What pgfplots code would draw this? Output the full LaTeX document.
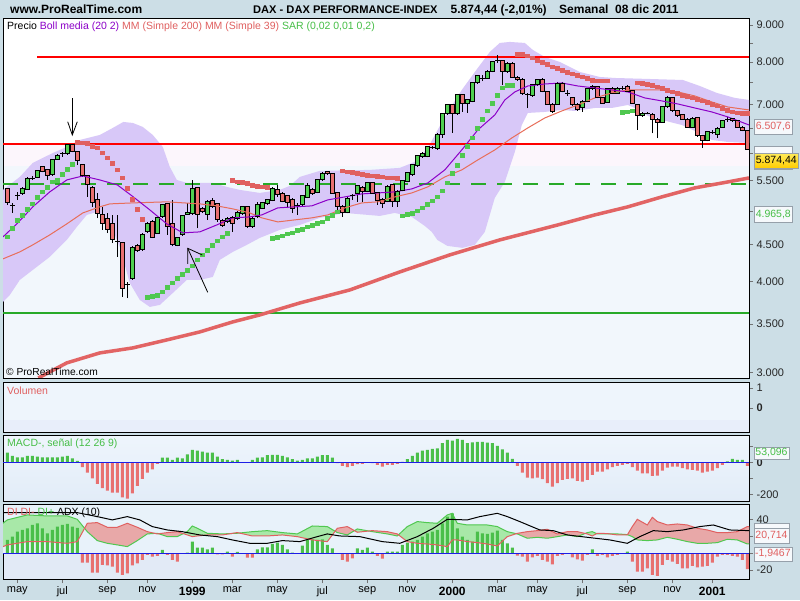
\documentclass[border=0pt]{standalone}
\usepackage{fontspec}
\setmainfont{Liberation Sans}
\usepackage{pgfplots}
\usepackage{pgfplotstable}
\pgfplotsset{compat=1.18}

\definecolor{framebg}{RGB}{204,222,230}
\definecolor{panelblue}{RGB}{242,247,252}
\definecolor{panelpink}{RGB}{252,246,252}
\definecolor{bollfill}{RGB}{216,200,248}
\definecolor{bollmid}{RGB}{140,0,200}
\definecolor{mmred}{RGB}{226,100,100}
\definecolor{mmthin}{RGB}{232,110,90}
\definecolor{upgreen}{RGB}{80,208,80}
\definecolor{dnred}{RGB}{232,112,112}
\definecolor{sargreen}{RGB}{80,200,80}
\definecolor{sarred}{RGB}{224,96,96}
\definecolor{hlred}{RGB}{255,0,0}
\definecolor{hlgreen}{RGB}{40,170,40}
\definecolor{barblue}{RGB}{30,30,230}
\definecolor{difillg}{RGB}{168,232,168}
\definecolor{difillr}{RGB}{232,168,168}
\definecolor{boxedge}{RGB}{150,160,170}
\definecolor{boxfill}{RGB}{246,249,252}
\definecolor{txtgreen}{RGB}{70,190,70}
\definecolor{txtred}{RGB}{224,96,96}
\definecolor{vol1}{RGB}{238,245,252}
\definecolor{vol2}{RGB}{232,238,250}
\definecolor{pan1}{RGB}{238,245,252}
\definecolor{pan2}{RGB}{226,236,248}
\definecolor{pan3}{RGB}{232,242,250}
\definecolor{pan4}{RGB}{226,234,246}
\newcommand\fs[1]{\fontsize{#1}{#1}\selectfont}

% weekly wicks: week, low / week, high / gap
\pgfplotstableread[row sep=\\]{i v\\
0 5096\\ 0 5378\\ 0 nan\\ 1 4969\\ 1 5129\\ 1 nan\\ 2 5178\\ 2 5311\\ 2 nan\\ 3 5260\\ 3 5395\\ 3 nan\\
4 5344\\ 4 5563\\ 4 nan\\ 5 5515\\ 5 5585\\ 5 nan\\ 6 5545\\ 6 5693\\ 6 nan\\ 7 5648\\ 7 5764\\ 7 nan\\
8 5515\\ 8 5711\\ 8 nan\\ 9 5585\\ 9 5893\\ 9 nan\\ 10 5875\\ 10 5987\\ 10 nan\\ 11 5936\\ 11 6032\\ 11 nan\\
12 5968\\ 12 6169\\ 12 nan\\ 13 6016\\ 13 6169\\ 13 nan\\ 14 5782\\ 14 6045\\ 14 nan\\ 15 5568\\ 15 5801\\ 15 nan\\
16 5232\\ 16 5603\\ 16 nan\\ 17 5069\\ 17 5412\\ 17 nan\\ 18 4887\\ 18 5288\\ 18 nan\\ 19 4710\\ 19 5069\\ 19 nan\\
20 4661\\ 20 4965\\ 20 nan\\ 21 4516\\ 21 4938\\ 21 nan\\ 22 4329\\ 22 4938\\ 22 nan\\ 23 3815\\ 23 4539\\ 23 nan\\
24 3796\\ 24 4000\\ 24 nan\\ 25 4021\\ 25 4469\\ 25 nan\\ 26 4393\\ 26 4506\\ 26 nan\\ 27 4407\\ 27 4666\\ 27 nan\\
28 4661\\ 28 4835\\ 28 nan\\ 29 4588\\ 29 4861\\ 29 nan\\ 30 4651\\ 30 4912\\ 30 nan\\ 31 4892\\ 31 5113\\ 31 nan\\
32 4636\\ 32 5129\\ 32 nan\\ 33 4469\\ 33 5178\\ 33 nan\\ 34 4469\\ 34 4612\\ 34 nan\\ 35 4622\\ 35 4938\\ 35 nan\\
36 4938\\ 36 5124\\ 36 nan\\ 37 4938\\ 37 5515\\ 37 nan\\ 38 4735\\ 38 5401\\ 38 nan\\ 39 4969\\ 39 5064\\ 39 nan\\
40 4861\\ 40 5178\\ 40 nan\\ 41 5049\\ 41 5211\\ 41 nan\\ 42 4835\\ 42 5129\\ 42 nan\\ 43 4754\\ 43 4876\\ 43 nan\\
44 4815\\ 44 4912\\ 44 nan\\ 45 4685\\ 45 4922\\ 45 nan\\ 46 4861\\ 46 5001\\ 46 nan\\ 47 4938\\ 47 5085\\ 47 nan\\
48 4743\\ 48 5085\\ 48 nan\\ 49 4739\\ 49 4899\\ 49 nan\\ 50 4887\\ 50 5150\\ 50 nan\\ 51 5033\\ 51 5145\\ 51 nan\\
52 5096\\ 52 5195\\ 52 nan\\ 53 5153\\ 53 5386\\ 53 nan\\ 54 5232\\ 54 5429\\ 54 nan\\ 55 5137\\ 55 5302\\ 55 nan\\
56 5044\\ 56 5260\\ 56 nan\\ 57 4965\\ 57 5203\\ 57 nan\\ 58 4938\\ 58 5124\\ 58 nan\\ 59 5080\\ 59 5260\\ 59 nan\\
60 5206\\ 60 5458\\ 60 nan\\ 61 5260\\ 61 5369\\ 61 nan\\ 62 5285\\ 62 5532\\ 62 nan\\ 63 5498\\ 63 5648\\ 63 nan\\
64 5603\\ 64 5675\\ 64 nan\\ 65 5277\\ 65 5630\\ 65 nan\\ 66 4990\\ 66 5311\\ 66 nan\\ 67 4912\\ 67 5088\\ 67 nan\\
68 4962\\ 68 5219\\ 68 nan\\ 69 5178\\ 69 5277\\ 69 nan\\ 70 5150\\ 70 5424\\ 70 nan\\ 71 5150\\ 71 5403\\ 71 nan\\
72 5302\\ 72 5480\\ 72 nan\\ 73 5277\\ 73 5480\\ 73 nan\\ 74 5096\\ 74 5311\\ 74 nan\\ 75 5044\\ 75 5203\\ 75 nan\\
76 5137\\ 76 5420\\ 76 nan\\ 77 5069\\ 77 5446\\ 77 nan\\ 78 5069\\ 78 5336\\ 78 nan\\ 79 5319\\ 79 5515\\ 79 nan\\
80 5472\\ 80 5657\\ 80 nan\\ 81 5585\\ 81 5801\\ 81 nan\\ 82 5746\\ 82 5968\\ 82 nan\\ 83 5912\\ 83 6016\\ 83 nan\\
84 5921\\ 84 6140\\ 84 nan\\ 85 6083\\ 85 6140\\ 85 nan\\ 86 6064\\ 86 6397\\ 86 nan\\ 87 6297\\ 87 6816\\ 87 nan\\
88 6772\\ 88 7011\\ 88 nan\\ 89 6397\\ 89 7011\\ 89 nan\\ 90 6772\\ 90 7237\\ 90 nan\\ 91 6837\\ 91 7237\\ 91 nan\\
92 6816\\ 92 7124\\ 92 nan\\ 93 7045\\ 93 7516\\ 93 nan\\ 94 7480\\ 94 7684\\ 94 nan\\ 95 7540\\ 95 7684\\ 95 nan\\
96 7588\\ 96 7795\\ 96 nan\\ 97 7745\\ 97 8033\\ 97 nan\\ 98 7982\\ 98 8185\\ 98 nan\\ 99 7445\\ 99 8058\\ 99 nan\\
100 7733\\ 100 8007\\ 100 nan\\ 101 7612\\ 101 7994\\ 101 nan\\ 102 7547\\ 102 7648\\ 102 nan\\ 103 7214\\ 103 7600\\ 103 nan\\
104 6917\\ 104 7253\\ 104 nan\\ 105 7168\\ 105 7469\\ 105 nan\\ 106 7421\\ 106 7588\\ 106 nan\\ 107 7272\\ 107 7600\\ 107 nan\\
108 6989\\ 108 7306\\ 108 nan\\ 109 6809\\ 109 7023\\ 109 nan\\ 110 6989\\ 110 7504\\ 110 nan\\ 111 7272\\ 111 7504\\ 111 nan\\
112 7191\\ 112 7329\\ 112 nan\\ 113 6967\\ 113 7168\\ 113 nan\\ 114 6858\\ 114 7023\\ 114 nan\\ 115 6843\\ 115 7101\\ 115 nan\\
116 7045\\ 116 7375\\ 116 nan\\ 117 7329\\ 117 7445\\ 117 nan\\ 118 7134\\ 118 7421\\ 118 nan\\ 119 7011\\ 119 7168\\ 119 nan\\
120 7034\\ 120 7375\\ 120 nan\\ 121 7237\\ 121 7398\\ 121 nan\\ 122 7237\\ 122 7387\\ 122 nan\\ 123 7329\\ 123 7410\\ 123 nan\\
124 7272\\ 124 7445\\ 124 nan\\ 125 7011\\ 125 7329\\ 125 nan\\ 126 6459\\ 126 7011\\ 126 nan\\ 127 6729\\ 127 6826\\ 127 nan\\
128 6783\\ 128 6826\\ 128 nan\\ 129 6391\\ 129 6805\\ 129 nan\\ 130 6292\\ 130 6698\\ 130 nan\\ 131 6603\\ 131 6967\\ 131 nan\\
132 6934\\ 132 7180\\ 132 nan\\ 133 6837\\ 133 7168\\ 133 nan\\ 134 6729\\ 134 6880\\ 134 nan\\ 135 6666\\ 135 6794\\ 135 nan\\
136 6500\\ 136 6698\\ 136 nan\\ 137 6500\\ 137 6719\\ 137 nan\\ 138 6317\\ 138 6729\\ 138 nan\\ 139 6107\\ 139 6357\\ 139 nan\\
140 6228\\ 140 6439\\ 140 nan\\ 141 6377\\ 141 6449\\ 141 nan\\ 142 6297\\ 142 6510\\ 142 nan\\ 143 6500\\ 143 6666\\ 143 nan\\
144 6624\\ 144 6719\\ 144 nan\\ 145 6624\\ 145 6708\\ 145 nan\\ 146 6500\\ 146 6666\\ 146 nan\\ 147 6429\\ 147 6530\\ 147 nan\\
148 6064\\ 148 6459\\ 148 nan\\
}\wicksT

% rising weeks (and unchanged weeks): week, open / week, close / gap
\pgfplotstableread[row sep=\\]{i v\\
1 5080\\ 1 5080\\ 1 nan\\ 2 5244\\ 2 5244\\ 2 nan\\ 3 5288\\ 3 5373\\ 3 nan\\ 4 5356\\ 4 5545\\ 4 nan\\
5 5541\\ 5 5541\\ 5 nan\\ 6 5563\\ 6 5675\\ 6 nan\\ 9 5603\\ 9 5875\\ 9 nan\\ 10 5888\\ 10 5949\\ 10 nan\\
11 5987\\ 11 5987\\ 11 nan\\ 12 5987\\ 12 6159\\ 12 nan\\ 22 4539\\ 22 4539\\ 22 nan\\ 24 3958\\ 24 3958\\ 24 nan\\
25 4043\\ 25 4460\\ 25 nan\\ 27 4421\\ 27 4646\\ 27 nan\\ 28 4685\\ 28 4810\\ 28 nan\\ 30 4661\\ 30 4896\\ 30 nan\\
31 4912\\ 31 5096\\ 31 nan\\ 34 4482\\ 34 4602\\ 34 nan\\ 35 4636\\ 35 4922\\ 35 nan\\ 36 4949\\ 36 4982\\ 36 nan\\
37 4965\\ 37 5373\\ 37 nan\\ 40 4949\\ 40 5150\\ 40 nan\\ 44 4835\\ 44 4887\\ 44 nan\\ 46 4887\\ 46 4982\\ 46 nan\\
47 4965\\ 47 5069\\ 47 nan\\ 49 4758\\ 49 4887\\ 49 nan\\ 50 4912\\ 50 5107\\ 50 nan\\ 51 5044\\ 51 5134\\ 51 nan\\
52 5113\\ 52 5178\\ 52 nan\\ 53 5167\\ 53 5373\\ 53 nan\\ 58 5085\\ 58 5085\\ 58 nan\\ 59 5096\\ 59 5244\\ 59 nan\\
60 5222\\ 60 5412\\ 60 nan\\ 62 5299\\ 62 5515\\ 62 nan\\ 63 5515\\ 63 5633\\ 63 nan\\ 68 4975\\ 68 5206\\ 68 nan\\
69 5244\\ 69 5244\\ 69 nan\\ 70 5277\\ 70 5412\\ 70 nan\\ 72 5316\\ 72 5469\\ 72 nan\\ 76 5150\\ 76 5401\\ 76 nan\\
78 5150\\ 78 5316\\ 78 nan\\ 79 5332\\ 79 5503\\ 79 nan\\ 80 5486\\ 80 5644\\ 80 nan\\ 81 5603\\ 81 5782\\ 81 nan\\
82 5764\\ 82 5949\\ 82 nan\\ 83 5936\\ 83 6000\\ 83 nan\\ 84 5936\\ 84 6126\\ 84 nan\\ 85 6115\\ 85 6115\\ 85 nan\\
86 6096\\ 86 6357\\ 86 nan\\ 87 6357\\ 87 6794\\ 87 nan\\ 88 6794\\ 88 6989\\ 88 nan\\ 90 6794\\ 90 7214\\ 90 nan\\
92 7011\\ 92 7101\\ 92 nan\\ 93 7063\\ 93 7499\\ 93 nan\\ 94 7499\\ 94 7660\\ 94 nan\\ 95 7604\\ 95 7604\\ 95 nan\\
96 7604\\ 96 7764\\ 96 nan\\ 97 7764\\ 97 8015\\ 97 nan\\ 98 8033\\ 98 8033\\ 98 nan\\ 100 7764\\ 100 7974\\ 100 nan\\
104 7214\\ 104 7214\\ 104 nan\\ 105 7191\\ 105 7445\\ 105 nan\\ 106 7445\\ 106 7564\\ 106 nan\\ 110 7005\\ 110 7485\\ 110 nan\\
112 7253\\ 112 7253\\ 112 nan\\ 115 6929\\ 115 7063\\ 115 nan\\ 116 7063\\ 116 7352\\ 116 nan\\ 117 7352\\ 117 7405\\ 117 nan\\
120 7049\\ 120 7352\\ 120 nan\\ 122 7253\\ 122 7352\\ 122 nan\\ 123 7368\\ 123 7368\\ 123 nan\\ 127 6757\\ 127 6809\\ 127 nan\\
128 6809\\ 128 6809\\ 128 nan\\ 131 6617\\ 131 6951\\ 131 nan\\ 132 6951\\ 132 7152\\ 132 nan\\ 137 6514\\ 137 6702\\ 137 nan\\
140 6244\\ 140 6425\\ 140 nan\\ 141 6413\\ 141 6413\\ 141 nan\\ 142 6371\\ 142 6494\\ 142 nan\\ 143 6514\\ 143 6651\\ 143 nan\\
144 6666\\ 144 6666\\ 144 nan\\
}\upT

% falling weeks: week, open / week, close / gap
\pgfplotstableread[row sep=\\]{i v\\
0 5361\\ 0 5129\\ 0 nan\\ 7 5751\\ 7 5662\\ 7 nan\\ 8 5693\\ 8 5585\\ 8 nan\\ 13 6159\\ 13 6032\\ 13 nan\\
14 6032\\ 14 5862\\ 14 nan\\ 15 5795\\ 15 5585\\ 15 nan\\ 16 5585\\ 16 5429\\ 16 nan\\ 17 5390\\ 17 5134\\ 17 nan\\
18 5189\\ 18 4965\\ 18 nan\\ 19 4938\\ 19 4799\\ 19 nan\\ 20 4887\\ 20 4710\\ 20 nan\\ 21 4810\\ 21 4563\\ 21 nan\\
23 4525\\ 23 3917\\ 23 nan\\ 26 4478\\ 26 4411\\ 26 nan\\ 29 4835\\ 29 4602\\ 29 nan\\ 32 5113\\ 32 4758\\ 32 nan\\
33 4799\\ 33 4502\\ 33 nan\\ 38 5390\\ 38 4938\\ 38 nan\\ 39 5044\\ 39 4990\\ 39 nan\\ 41 5167\\ 41 5069\\ 41 nan\\
42 5113\\ 42 4861\\ 42 nan\\ 43 4850\\ 43 4773\\ 43 nan\\ 45 4902\\ 45 4810\\ 45 nan\\ 48 5069\\ 48 4758\\ 48 nan\\
54 5356\\ 54 5260\\ 54 nan\\ 55 5288\\ 55 5150\\ 55 nan\\ 56 5244\\ 56 5134\\ 56 nan\\ 57 5189\\ 57 5044\\ 57 nan\\
61 5356\\ 61 5277\\ 61 nan\\ 64 5657\\ 64 5621\\ 64 nan\\ 65 5621\\ 65 5288\\ 65 nan\\ 66 5299\\ 66 5069\\ 66 nan\\
67 5069\\ 67 4975\\ 67 nan\\ 71 5390\\ 71 5316\\ 71 nan\\ 73 5469\\ 73 5288\\ 73 nan\\ 74 5299\\ 74 5167\\ 74 nan\\
75 5189\\ 75 5113\\ 75 nan\\ 77 5429\\ 77 5150\\ 77 nan\\ 89 6989\\ 89 6794\\ 89 nan\\ 91 7214\\ 91 7011\\ 91 nan\\
99 8033\\ 99 7764\\ 99 nan\\ 101 7974\\ 101 7628\\ 101 nan\\ 102 7628\\ 102 7564\\ 102 nan\\ 103 7580\\ 103 7253\\ 103 nan\\
107 7580\\ 107 7290\\ 107 nan\\ 108 7290\\ 108 7005\\ 108 nan\\ 109 7005\\ 109 6843\\ 109 nan\\ 111 7485\\ 111 7290\\ 111 nan\\
113 7152\\ 113 6989\\ 113 nan\\ 114 7005\\ 114 6880\\ 114 nan\\ 118 7405\\ 118 7152\\ 118 nan\\ 119 7152\\ 119 7027\\ 119 nan\\
121 7352\\ 121 7253\\ 121 nan\\ 124 7405\\ 124 7290\\ 124 nan\\ 125 7306\\ 125 7027\\ 125 nan\\ 126 6989\\ 126 6757\\ 126 nan\\
129 6787\\ 129 6666\\ 129 nan\\ 130 6681\\ 130 6617\\ 130 nan\\ 133 7152\\ 133 6858\\ 133 nan\\ 134 6858\\ 134 6757\\ 134 nan\\
135 6772\\ 135 6681\\ 135 nan\\ 136 6681\\ 136 6514\\ 136 nan\\ 138 6713\\ 138 6337\\ 138 nan\\ 139 6337\\ 139 6244\\ 139 nan\\
145 6687\\ 145 6645\\ 145 nan\\ 146 6645\\ 146 6514\\ 146 nan\\ 147 6514\\ 147 6445\\ 147 nan\\ 148 6445\\ 148 6077\\ 148 nan\\
}\dnT

% Bollinger band outline: upper band left to right, then lower band right to left
\pgfplotstableread[row sep=\\]{i v\\
-0.86 5344\\ 2.5 5568\\ 5.1 5820\\ 9.1 6005\\ 11.9 6121\\ 14.5 6258\\ 18.5 6357\\ 21.1 6500\\
23.2 6624\\ 25.1 6603\\ 27.1 6520\\ 29.1 6357\\ 31.1 6121\\ 32.5 5746\\ 33.9 5515\\ 35.9 5463\\
41.1 5463\\ 43.9 5395\\ 46.5 5344\\ 50.5 5293\\ 54.5 5344\\ 56.5 5412\\ 58.5 5568\\ 62.5 5675\\
72.5 5693\\ 78.5 5729\\ 81.5 5838\\ 84.1 6102\\ 87.5 6730\\ 90.9 7329\\ 94.1 7857\\ 96.5 8264\\
98.5 8502\\ 100.5 8529\\ 103.5 8502\\ 105.1 8316\\ 107.5 8133\\ 110.5 8006\\ 114.5 7757\\
118.5 7636\\ 121.5 7612\\ 128.5 7588\\ 135.1 7564\\ 138.5 7421\\ 141.9 7260\\ 145.5 7147\\ 148.34 7101\\
148.34 6198\\ 144.1 6218\\ 140.9 6258\\ 137.5 6439\\ 134.9 6561\\ 130.9 6666\\ 128.1 6751\\
125.5 6923\\ 124.1 6989\\ 120.9 6923\\ 117.5 6923\\ 113.5 6858\\ 110.9 6880\\ 107.5 6837\\
104.1 6815\\ 102.9 6561\\ 101.5 6025\\ 99.5 5480\\ 97.5 5211\\ 95.5 4680\\ 93.5 4492\\ 91 4450\\
88 4478\\ 86 4563\\ 84.9 4680\\ 83.5 4769\\ 80.9 4907\\ 77.5 4969\\ 74.5 4922\\ 67.5 4969\\
62.5 4892\\ 58.5 4784\\ 54.5 4710\\ 50.5 4592\\ 47.9 4492\\ 45.1 4393\\ 42.5 4284\\ 41.1 4059\\
38.5 4021\\ 35.9 4021\\ 33.1 3859\\ 30.5 3716\\ 28.5 3693\\ 26.5 3775\\ 24.5 3983\\ 22.5 4463\\
20.5 4815\\ 17.9 4985\\ 15.9 4938\\ 13.9 4754\\ 11.9 4563\\ 8.5 4325\\ 5.1 4150\\ 2.5 4021\\
0.5 3835\\ -0.86 3751\\
}\bollband

\pgfplotstableread[row sep=\\]{i v\\
-0.86 4607\\ 1.9 4800\\ 5.1 5065\\ 8.5 5311\\ 11.9 5515\\ 15.1 5585\\ 18.5 5515\\ 22 5429\\
25.2 5227\\ 28.5 5017\\ 31.9 4800\\ 35.1 4666\\ 38.5 4680\\ 41.9 4784\\ 45.1 4892\\ 48.5 4907\\
50.9 4938\\ 54.1 5049\\ 57.5 5065\\ 60.9 5081\\ 64.1 5178\\ 67.5 5227\\ 70.9 5277\\ 74.1 5293\\
77.5 5311\\ 80.9 5361\\ 84.1 5463\\ 87.5 5693\\ 90.9 6064\\ 94.1 6459\\ 97.5 6772\\ 99.5 7101\\
101.5 7283\\ 104.1 7421\\ 107.5 7469\\ 110.9 7493\\ 114.1 7421\\ 117.5 7375\\ 120.9 7329\\
124.1 7283\\ 127.5 7146\\ 130.9 7079\\ 134.1 7012\\ 137.5 6923\\ 140.9 6837\\ 144.1 6730\\ 148.34 6561\\
}\bollmidT

\pgfplotstableread[row sep=\\]{i v\\
-0.86 4298\\ 2.5 4393\\ 5.1 4492\\ 8.5 4636\\ 11.9 4800\\ 15.1 4969\\ 18.5 5065\\ 20.5 5113\\
25.1 5129\\ 31.9 5146\\ 38.5 5113\\ 41.9 5081\\ 45.1 5033\\ 48.5 4969\\ 50.9 4892\\ 54.1 4830\\
57.5 4861\\ 60.9 4892\\ 64.1 4938\\ 67.5 5049\\ 70.9 5129\\ 74.1 5146\\ 77.5 5227\\ 80.9 5293\\
84.1 5395\\ 87.5 5568\\ 90.9 5693\\ 94.1 5875\\ 97.5 6064\\ 100.9 6297\\ 104.1 6500\\ 107.5 6708\\
110.9 6858\\ 114.1 6989\\ 117.5 7146\\ 120.9 7260\\ 124.1 7329\\ 130.9 7329\\ 134.1 7283\\
137.5 7191\\ 140.9 7056\\ 144.1 6945\\ 148.34 6880\\
}\mmshort

\pgfplotstableread[row sep=\\]{i v\\
6.2 2950\\ 11.9 3094\\ 18.5 3193\\ 25.1 3244\\ 31.9 3327\\ 38.5 3412\\ 45.1 3522\\ 50.5 3600\\
58.5 3739\\ 68.5 3896\\ 78.5 4124\\ 88.5 4352\\ 98.5 4563\\ 110.1 4784\\ 117.5 4938\\ 124.1 5065\\
130.9 5227\\ 137.5 5378\\ 144.1 5480\\ 148.34 5550\\
}\mmlong

\pgfplotstableread[row sep=\\]{i v\\
0 4611\\ 1 4735\\ 2 4853\\ 3 4938\\ 4 5028\\ 5 5118\\ 6 5225\\ 7 5311\\ 8 5395\\ 9 5486\\
10 5506\\ 11 5621\\ 12 5705\\ 13 5801\\
28 3808\\ 29 3819\\ 30 3835\\ 31 3875\\ 32 3929\\ 33 3987\\ 34 4043\\ 35 4098\\ 36 4150\\
37 4207\\ 38 4284\\ 39 4352\\ 40 4421\\ 41 4485\\ 42 4553\\ 43 4611\\ 44 4661\\
53 4588\\ 54 4602\\ 55 4626\\ 56 4651\\ 57 4670\\ 58 4703\\ 59 4717\\ 60 4758\\ 61 4784\\
62 4810\\ 63 4835\\ 64 4887\\ 65 4938\\ 66 4990\\
79 4927\\ 80 4949\\ 81 4965\\ 82 5006\\ 83 5053\\ 84 5107\\ 85 5162\\ 86 5232\\ 87 5332\\
88 5469\\ 89 5633\\ 90 5782\\ 91 5968\\ 92 6140\\ 93 6303\\ 94 6494\\ 95 6687\\ 96 6865\\
97 7027\\ 98 7203\\ 99 7383\\ 100 7445\\ 101 7445\\
123 6830\\ 124 6843\\ 125 6865\\
}\sargreenT

\pgfplotstableread[row sep=\\]{i v\\
14 6209\\ 15 6204\\ 16 6189\\ 17 6140\\ 18 6107\\ 19 6012\\ 20 5918\\ 21 5814\\ 22 5693\\
23 5555\\ 24 5373\\ 25 5189\\ 26 5028\\ 27 4872\\
45 5515\\ 46 5486\\ 47 5476\\ 48 5458\\ 49 5429\\ 50 5412\\ 51 5401\\ 52 5390\\
67 5680\\ 68 5662\\ 69 5651\\ 70 5633\\ 71 5621\\ 72 5603\\ 73 5591\\ 74 5585\\ 75 5573\\
76 5555\\ 77 5555\\ 78 5545\\
102 8203\\ 103 8203\\ 104 8167\\ 105 8117\\ 106 8058\\ 107 8000\\ 108 7949\\ 109 7889\\
110 7849\\ 111 7800\\ 112 7758\\ 113 7716\\ 114 7684\\ 115 7643\\ 116 7604\\ 117 7564\\
118 7547\\ 119 7547\\ 120 7547\\
126 7500\\ 127 7486\\ 128 7469\\ 129 7445\\ 130 7405\\ 131 7368\\ 132 7329\\ 133 7290\\
134 7253\\ 135 7214\\ 136 7191\\ 137 7152\\ 138 7124\\ 139 7085\\ 140 7049\\ 141 7005\\
142 6973\\ 143 6917\\ 144 6880\\ 145 6843\\ 146 6822\\ 147 6809\\ 148 6809\\
}\sarredT

\pgfplotstableread[row sep=\\]{i v\\
0 60\\ 1 40\\ 2 31\\ 3 31\\ 4 40\\ 5 40\\ 6 35\\ 7 31\\ 8 31\\ 9 31\\ 10 31\\ 11 35\\ 12 40\\
13 25\\ 14 8\\ 15 -31\\ 16 -65\\ 17 -100\\ 18 -135\\ 19 -162\\ 20 -177\\ 21 -190\\ 22 -190\\
23 -219\\ 24 -227\\ 25 -194\\ 26 -148\\ 27 -104\\ 28 -65\\ 29 -44\\ 30 -10\\ 31 29\\ 32 29\\
33 15\\ 34 29\\ 35 25\\ 36 50\\ 37 77\\ 38 73\\ 39 67\\ 40 60\\ 41 60\\ 42 35\\ 43 19\\ 44 15\\
45 10\\ 46 15\\ 47 0\\ 48 0\\ 49 15\\ 50 29\\ 51 31\\ 52 44\\ 53 46\\ 54 46\\ 55 40\\ 56 31\\
57 19\\ 58 10\\ 59 15\\ 60 25\\ 61 25\\ 62 35\\ 63 44\\ 64 44\\ 65 29\\ 66 -6\\ 67 -23\\
68 -31\\ 69 -23\\ 70 -12\\ 71 -10\\ 72 0\\ 73 -6\\ 74 -17\\ 75 -27\\ 76 -17\\ 77 -17\\
78 -10\\ 79 2\\ 80 19\\ 81 40\\ 82 60\\ 83 73\\ 84 77\\ 85 83\\ 86 87\\ 87 119\\ 88 140\\
89 135\\ 90 146\\ 91 140\\ 92 119\\ 93 125\\ 94 127\\ 95 127\\ 96 123\\ 97 119\\ 98 102\\
99 81\\ 100 60\\ 101 21\\ 102 -23\\ 103 -65\\ 104 -96\\ 105 -100\\ 106 -96\\ 107 -106\\
108 -131\\ 109 -152\\ 110 -131\\ 111 -110\\ 112 -104\\ 113 -100\\ 114 -117\\ 115 -121\\
116 -110\\ 117 -79\\ 118 -58\\ 119 -58\\ 120 -44\\ 121 -31\\ 122 -23\\ 123 -17\\ 124 -10\\
125 -31\\ 126 -52\\ 127 -69\\ 128 -69\\ 129 -85\\ 130 -83\\ 131 -52\\ 132 -33\\ 133 -27\\
134 -27\\ 135 -37\\ 136 -44\\ 137 -48\\ 138 -52\\ 139 -65\\ 140 -58\\ 141 -52\\ 142 -37\\
143 -17\\ 144 6\\ 145 21\\ 146 15\\ 147 15\\ 148 -23\\
}\macd

\pgfplotstableread[row sep=\\]{i v\\
0 15.8\\ 1 19.7\\ 2 25.6\\ 3 27.6\\ 4 29.6\\ 5 33.5\\ 6 35.5\\ 7 29.6\\ 8 23.7\\ 9 27.6\\
10 31.6\\ 11 33.5\\ 12 34.7\\ 13 31.6\\ 14 30\\ 15 -11\\ 16 -11\\ 17 -22.9\\ 18 -22.9\\
19 -13.8\\ 20 -14.2\\ 21 -15.8\\ 22 -22.9\\ 23 -25.6\\ 24 -23.7\\ 25 -14.2\\ 26 -11.8\\
27 -7.9\\ 28 -2\\ 29 -3.9\\ 30 -3.2\\ 31 3.9\\ 32 -2\\ 33 -7.9\\ 34 -9.9\\ 35 -0.8\\ 36 0.8\\
37 13.8\\ 38 6.7\\ 39 6.7\\ 40 4.7\\ 41 6.7\\ 42 -1.2\\ 43 -1.2\\ 44 2\\ 45 -3.9\\ 46 1.6\\
47 0\\ 48 -5.1\\ 49 -5.1\\ 50 4.7\\ 51 7.1\\ 52 7.1\\ 53 11\\ 54 12.6\\ 55 9.9\\ 56 4.7\\
57 0.8\\ 58 0\\ 59 9.1\\ 60 15.8\\ 61 16.6\\ 62 15.8\\ 63 16.6\\ 64 9.9\\ 65 5.9\\ 66 0\\
67 -7.9\\ 68 -9.9\\ 69 -5.9\\ 70 5.9\\ 71 3.9\\ 72 6.7\\ 73 2\\ 74 -3.2\\ 75 -6.3\\ 76 2\\
77 2\\ 78 2\\ 79 9.9\\ 80 12.6\\ 81 13.8\\ 82 15.8\\ 83 19.7\\ 84 23.7\\ 85 25.6\\ 86 27.6\\
87 35.5\\ 88 43.4\\ 89 47.3\\ 90 29.6\\ 91 19.7\\ 92 15.8\\ 93 13.8\\ 94 25.6\\ 95 23.7\\
96 22.9\\ 97 24.5\\ 98 26.8\\ 99 15.8\\ 100 11.8\\ 101 6.7\\ 102 -2.8\\ 103 -3.9\\ 104 -9.9\\
105 -4.7\\ 106 -3.2\\ 107 -7.9\\ 108 -9.9\\ 109 -13\\ 110 -3.2\\ 111 -2\\ 112 0\\ 113 -4.7\\
114 -7.1\\ 115 -8.7\\ 116 -2\\ 117 4.7\\ 118 -3.2\\ 119 -2\\ 120 -4.7\\ 121 -3.2\\ 122 -2\\
123 0\\ 124 2\\ 125 -9.9\\ 126 -21.7\\ 127 -21.7\\ 128 -17.8\\ 129 -25.6\\ 130 -26.8\\
131 -13.8\\ 132 -7.9\\ 133 -9.9\\ 134 -12.6\\ 135 -17.8\\ 136 -17.8\\ 137 -15\\ 138 -16.6\\
139 -15.8\\ 140 -15\\ 141 -11\\ 142 -3.9\\ 143 -2\\ 144 -2\\ 145 -3.2\\ 146 -3.9\\ 147 -7.9\\
148 -18.9\\
}\dihist

\pgfplotstableread[row sep=\\]{i v\\
-0.86 35.5\\ 0 39.5\\ 4 45.4\\ 8 44.2\\ 12 44.2\\ 14 40.2\\ 16 25.6\\ 18 15.0\\ 20 11.8\\
22 9.9\\ 24 7.9\\ 26 15.0\\ 28 22.9\\ 30 23.7\\ 32 19.7\\ 34 19.7\\ 36 25.6\\ 37 32.3\\
38 29.6\\ 40 23.7\\ 43 22.9\\ 46 23.7\\ 49 25.6\\ 52 26.8\\ 55 24.5\\ 58 22.9\\ 61 32.3\\
64 31.6\\ 66 24.5\\ 68 21.7\\ 70 28.8\\ 73 25.6\\ 76 22.9\\ 78 20.5\\ 80 31.6\\ 82 37.5\\
84 36.3\\ 86 35.5\\ 88 45.4\\ 89 47.3\\ 90 35.5\\ 92 33.5\\ 94 33.5\\ 96 33.5\\ 98 31.6\\
100 25.6\\ 102 22.9\\ 104 17.8\\ 106 18.9\\ 108 17.8\\ 110 19.7\\ 112 21.7\\ 114 19.7\\
116 24.5\\ 117 25.6\\ 118 22.9\\ 120 22.9\\ 122 22.9\\ 124 22.1\\ 125 19.7\\ 126 15.8\\
128 15.0\\ 129 15.4\\ 130 15.8\\ 132 18.9\\ 134 16.6\\ 136 13.8\\ 138 11.8\\ 140 11.8\\
142 12.6\\ 144 16.6\\ 146 15.8\\ 148 11.0\\ 148.34 11.0\\
}\diplusT

\pgfplotstableread[row sep=\\]{i v\\
-0.86 7.9\\ 0 9.9\\ 4 13.8\\ 8 13.8\\ 12 11.8\\ 14 13.8\\ 16 35.5\\ 18 36.3\\ 20 30.8\\
22 30.8\\ 24 35.5\\ 26 30.8\\ 28 25.6\\ 30 22.9\\ 32 24.5\\ 34 25.6\\ 36 21.7\\ 37 19.7\\
38 20.5\\ 40 21.7\\ 43 21.7\\ 46 24.5\\ 49 20.5\\ 52 20.5\\ 55 21.7\\ 58 19.7\\ 61 15.8\\
64 13.8\\ 66 29.6\\ 68 31.6\\ 70 24.9\\ 73 26.8\\ 76 25.6\\ 78 22.9\\ 80 13.8\\ 82 11.8\\
84 11.0\\ 86 9.9\\ 88 7.9\\ 89 15.8\\ 90 15.8\\ 92 13.8\\ 94 12.6\\ 96 11.0\\ 98 8.7\\
100 19.7\\ 102 23.6\\ 104 25.6\\ 106 26.8\\ 108 28.4\\ 110 22.9\\ 112 25.6\\ 114 25.6\\
116 22.9\\ 117 20.5\\ 118 23.7\\ 120 23.3\\ 122 21.7\\ 124 21.7\\ 125 31.6\\ 126 40.2\\
128 33.5\\ 129 42.6\\ 130 37.5\\ 132 33.5\\ 134 34.7\\ 136 33.5\\ 138 29.6\\ 140 27.6\\
142 24.5\\ 144 24.5\\ 146 25.6\\ 148 31.6\\ 148.34 31.6\\
}\diminusT

\pgfplotstableread[row sep=\\]{i v\\
-0.86 48.1\\ 8 48.1\\ 14 48.1\\ 18 43.4\\ 21 39.5\\ 24 43.4\\ 26.5 39.5\\ 29 31.6\\ 32 27.6\\
35 25.6\\ 38.5 21.7\\ 42 19.7\\ 45 15.8\\ 48.5 11.8\\ 52 11.8\\ 55 15.0\\ 58.5 13.8\\
62 19.7\\ 64 22.9\\ 66.5 20.5\\ 70.5 19.7\\ 75 13.8\\ 78.5 11.8\\ 82 19.7\\ 85.2 29.6\\
88 40.2\\ 92 39.5\\ 94.5 43.4\\ 98 47.3\\ 100 43.4\\ 102.5 37.5\\ 106.5 27.6\\ 109.2 26.8\\
112 21.7\\ 116 18.9\\ 120.5 15.8\\ 124 11.8\\ 126.5 19.7\\ 129.2 26.8\\ 132 25.6\\
135.2 27.6\\ 138.5 31.6\\ 141.2 33.5\\ 144.5 27.6\\ 148.34 26.8\\
}\adx

\pgfplotsset{
  panel/.style={anchor=south west, scale only axis, width=746pt,
    xmin=-0.86, xmax=148.34, xtick=\empty,
    axis line style={black, line width=0.9pt},
    ytick pos=right, yticklabel pos=right, tick align=outside,
    major tick length=4pt, tick style={black!55, line width=0.7pt},
    yticklabel style={font=\fs{11}, text=black!85}},
}

\begin{document}
\begin{tikzpicture}[x=1pt, y=1pt]
\useasboundingbox (0,0) rectangle (800,600);
\fill[framebg] (0,0) rectangle (800,600);
% panel backgrounds
\fill[white] (3,456) rectangle (749,582);
\fill[panelpink] (3,434) rectangle (749,456);
\fill[panelblue] (3,222) rectangle (749,434);
\fill[vol1] (3,180) rectangle (749,217.3);
\fill[vol2] (3,167.7) rectangle (749,180);
\shade[top color=pan1, bottom color=pan2] (3,98.7) rectangle (749,164.3);
\fill[pan3] (3,46.7) rectangle (749,95.3);
\fill[pan4] (3,20.7) rectangle (749,46.7);

% ---------- price panel ----------
\begin{axis}[panel, at={(3pt,222pt)}, height=360pt,
  ymode=log, ymin=2950, ymax=9200,
  ytick={3000,3500,4000,4500,5000,5500,6000,6500,7000,7500,8000,8500,9000},
  yticklabels={3.000,3.500,4.000,4.500,,5.500,,,7.000,,8.000,,9.000},
  minor ytick={}, unbounded coords=jump]
\addplot[fill=bollfill, draw=none] table[x=i, y=v] {\bollband};

\addplot[hlred, line width=2.6pt] coordinates {(6,8136) (148.34,8136)};
\addplot[hlred, line width=2.6pt] coordinates {(-0.86,6180) (148.34,6180)};
\addplot[hlgreen, line width=1.2pt, dash pattern=on 15pt off 11pt] coordinates {(-0.86,5446) (148.34,5446)};
\addplot[hlgreen, line width=2pt] coordinates {(-0.86,3625) (148.34,3625)};

\addplot[mmred, line width=3.5pt] table[x=i, y=v] {\mmlong};

% candles: wicks, black body frame, coloured body with black top and bottom edges
\addplot[black, line width=1pt] table[x=i, y=v] {\wicksT};
\addplot[black, line width=5pt] table[x=i, y=v] {\upT};
\addplot[black, line width=5pt] table[x=i, y=v] {\dnT};
\addplot[upgreen, line width=3pt, mark=-, mark size=2.5pt,
  mark options={draw=black, line width=1pt}] table[x=i, y=v] {\upT};
\addplot[dnred, line width=3pt, mark=-, mark size=2.5pt,
  mark options={draw=black, line width=1pt}] table[x=i, y=v] {\dnT};

\addplot[mmthin, line width=1pt] table[x=i, y=v] {\mmshort};
\addplot[bollmid, line width=1pt] table[x=i, y=v] {\bollmidT};
\addplot[only marks, mark=square*, mark size=1.8pt, color=sargreen] table[x=i, y=v] {\sargreenT};
\addplot[only marks, mark=square*, mark size=1.8pt, color=sarred] table[x=i, y=v] {\sarredT};
\end{axis}

% ---------- volume panel ----------
\begin{axis}[panel, at={(3pt,167.7pt)}, height=49.6pt, ymin=-1.215, ymax=1.265,
  ytick={0,1}, yticklabels={\textbf{0},1}]
\addplot[draw=none] coordinates {(0,0)};
\end{axis}

% ---------- MACD panel ----------
\begin{axis}[panel, at={(3pt,98.7pt)}, height=65.6pt, ymin=-244, ymax=166,
  ytick={-200,-100,0,100}, yticklabels={-200,,\textbf{0},}]
\addplot[ybar, bar width=3pt, bar shift=0pt, fill=upgreen!92!black, draw=none,
  restrict y to domain=0:1000] table[x=i, y=v] {\macd};
\addplot[ybar, bar width=3pt, bar shift=0pt, fill=dnred, draw=none,
  restrict y to domain=-1000:0] table[x=i, y=v] {\macd};
\addplot[barblue, line width=1pt] coordinates {(-0.86,0) (148.34,0)};
\end{axis}

% ---------- DI / ADX panel ----------
\begin{axis}[panel, at={(3pt,20.7pt)}, height=74.6pt, ymin=-30.8, ymax=57.5,
  ytick={-20,0,20,40}, yticklabels={-20,,,40},
  xtick={2,11,20,28,37,45,54,63,72,80,89,98,106,115,124,133,141},
  xticklabels={may,jul,sep,nov,\textbf{\fs{12}1999},mar,may,jul,sep,nov,\textbf{\fs{12}2000},mar,may,jul,sep,nov,\textbf{\fs{12}2001}},
  xtick pos=bottom, xticklabel style={font=\fs{11}, text=black}]
% green where DI+ lies above DI-: fill under DI+, then clear under DI-
\addplot[fill=difillg, draw=none] table[x=i, y=v] {\diplusT} \closedcycle;
\addplot[fill=pan3, draw=none] table[x=i, y=v] {\diminusT} \closedcycle;
% red where DI- lies above DI+ (DI- forward, DI+ back)
\addplot[fill=difillr, draw=none] coordinates {(15.45,29.6) (16,35.5) (18,36.3) (20,30.8) (22,30.8) (24,35.5) (26,30.8) (28,25.6) (29.54,23.5) (28,22.9) (26,15.0) (24,7.9) (22,9.9) (20,11.8) (18,15.0) (16,25.6)};
\addplot[fill=difillr, draw=none] coordinates {(30.29,23.1) (32,24.5) (34,25.6) (35.2,23.25) (34,19.7) (32,19.7)};
\addplot[fill=difillr, draw=none] coordinates {(44.8,23.4) (46,24.5) (46.4,23.96) (46,23.7)};
\addplot[fill=difillr, draw=none] coordinates {(65.55,26.08) (66,29.6) (68,31.6) (69.43,26.8) (68,21.7) (66,24.5)};
\addplot[fill=difillr, draw=none] coordinates {(72.3,26.35) (73,26.8) (76,25.6) (78,22.9) (78.24,21.8) (78,20.5) (76,22.9) (73,25.6)};
\addplot[fill=difillr, draw=none] coordinates {(101.79,23.19) (102,23.6) (104,25.6) (106,26.8) (108,28.4) (110,22.9) (112,25.6) (114,25.6) (115.57,23.48) (114,19.7) (112,21.7) (110,19.7) (108,17.8) (106,18.9) (104,17.8) (102,22.9)};
\addplot[fill=difillr, draw=none] coordinates {(117.86,23.27) (118,23.7) (120,23.3) (120.5,22.9) (120,22.9) (118,22.9)};
\addplot[fill=difillr, draw=none] coordinates {(124.03,22.0) (125,31.6) (126,40.2) (128,33.5) (129,42.6) (130,37.5) (132,33.5) (134,34.7) (136,33.5) (138,29.6) (140,27.6) (142,24.5) (144,24.5) (146,25.6) (148,31.6) (148.34,31.6) (148.34,11.0) (148,11.0) (146,15.8) (144,16.6) (142,12.6) (140,11.8) (138,11.8) (136,13.8) (134,16.6) (132,18.9) (130,15.8) (129,15.4) (128,15.0) (126,15.8) (125,19.7)};
\addplot[ybar, bar width=3pt, bar shift=0pt, fill=upgreen!92!black, draw=none,
  restrict y to domain=0:1000] table[x=i, y=v] {\dihist};
\addplot[ybar, bar width=3pt, bar shift=0pt, fill=dnred, draw=none,
  restrict y to domain=-1000:0] table[x=i, y=v] {\dihist};
\addplot[barblue, line width=1pt] coordinates {(-0.86,0) (148.34,0)};
\addplot[sargreen, line width=1pt] table[x=i, y=v] {\diplusT};
\addplot[sarred, line width=1pt] table[x=i, y=v] {\diminusT};
\addplot[black, line width=1pt] table[x=i, y=v] {\adx};
\end{axis}

% ---------- header and panel titles ----------
\begin{scope}[every node/.style={inner sep=0pt, anchor=base west}]
\node[font=\bfseries\fs{12}] at (10,586) {www.ProRealTime.com};
\node[font=\bfseries\fs{11.1}] at (253,586) {DAX - DAX PERFORMANCE-INDEX};
\node[font=\bfseries\fs{12}] at (450.5,586) {5.874,44 (-2,01\%)};
\node[font=\bfseries\fs{12}] at (559,586) {Semanal\ \ 08 dic 2011};
\node[font=\fs{10.5}] at (7,570.7) {Precio \textcolor{bollmid}{Boll media (20 2)} \textcolor{txtred}{MM (Simple 200) MM (Simple 39)} \textcolor{txtgreen}{SAR (0,02 0,01 0,2)}};
\node[font=\fs{10.2}] at (6,224) {\copyright\ ProRealTime.com};
\node[font=\fs{10.5}, text=txtred] at (7,205) {Volumen};
\node[font=\fs{10.5}, text=txtgreen] at (7,153.5) {MACD-, señal (12 26 9)};
\node[font=\fs{10.5}] at (7,84.5) {\textcolor{txtred}{DI DI-} \textcolor{txtgreen}{DI+} ADX (10)};
\end{scope}

% arrows
\draw[black, line width=0.8pt] (72.3,501.7) -- (72.3,466);
\draw[black, line width=0.8pt] (67.7,478.3) -- (72.3,465) -- (77.3,478.3);
\draw[black, line width=0.8pt] (187.7,351.7) -- (207.7,307.7);
\draw[black, line width=0.8pt] (187.7,336) -- (187.7,351.7) -- (202.3,345);

% value boxes on the right
\begin{scope}[every node/.style={inner sep=0pt, font=\fs{10.5}}]
\draw[boxedge, fill=boxfill] (754.3,465.7) rectangle (792.3,481);
\node[text=txtred] at (773.3,473.3) {6.507,6};
\draw[boxedge, fill=boxfill] (754.3,430.7) rectangle (792.3,453.3);
\shade[top color={rgb,255:red,255;green,236;blue,90}, bottom color={rgb,255:red,255;green,204;blue,0}] (754.3,431.7) rectangle (798.3,446.7);
\draw[boxedge] (754.3,431.7) rectangle (798.3,446.7);
\node[text=black] at (776.3,439.2) {5.874,44};
\draw[boxedge, fill=boxfill] (754.3,377.3) rectangle (792.3,393.3);
\node[text=txtgreen] at (773.3,385.3) {4.965,8};
\draw[boxedge, fill=boxfill] (754,140.7) rectangle (789,153.3);
\node[text=txtgreen] at (771.5,147) {53,096};
\draw[boxedge, fill=boxfill] (754,62.3) rectangle (789,77.3);
\draw[boxedge, fill=boxfill] (754,57) rectangle (789,72);
\node[text=txtred] at (771.5,64.5) {20,714};
\draw[boxedge, fill=boxfill] (754,38.7) rectangle (791.7,53.3);
\node[text=txtred] at (772.8,46) {-1,9467};
\end{scope}
\end{tikzpicture}
\end{document}
